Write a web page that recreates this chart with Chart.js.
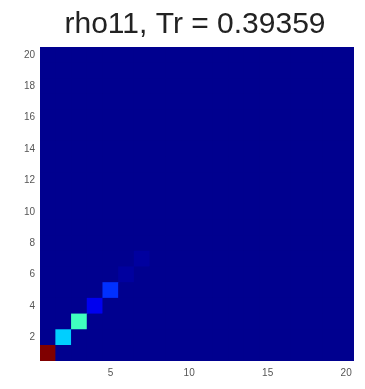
<!DOCTYPE html>
<html>
<head>
<meta charset="utf-8">
<script src="https://cdn.jsdelivr.net/npm/chart.js@4.4.1/dist/chart.umd.min.js"></script>
<style>
  html, body { margin: 0; padding: 0; background: #fff; }
  #wrap { width: 365px; height: 389px; }
</style>
</head>
<body>
<div id="wrap"><canvas id="chart"></canvas></div>
<script>
// matrix size and labels
const size = 20;
const colLabels = ['1','2','3','4','5','6','7','8','9','10','11','12','13','14','15','16','17','18','19','20'];
const xTickLabels = [5, 10, 15, 20];
const yTickLabels = [2, 4, 6, 8, 10, 12, 14, 16, 18, 20];

// diagonal of rho11 (off-diagonal entries are ~0)
const diagValues = [0.19379, 0.062, 0.0833, 0.0188, 0.0293, 0.0043, 0.0021, 0,
                    0, 0, 0, 0, 0, 0, 0, 0, 0, 0, 0, 0];

// build the 20x20 matrix
const rho = [];
for (let r = 0; r < size; r++) {
    const row = [];
    for (let c = 0; c < size; c++) row.push(r === c ? diagValues[r] : 0);
    rho.push(row);
}

const trace = diagValues.reduce((a, b) => a + b, 0);
const vMin = Math.min(...rho.flat());
const vMax = Math.max(...rho.flat());

// matlab-style jet(64)
function jetColor(v) {
    const t = vMax > vMin ? (v - vMin) / (vMax - vMin) : 0;
    const i = Math.round(t * 63) + 1;
    const u = j => {
        if (j < 1 || j > 47) return 0;
        if (j <= 16) return j / 16;
        if (j <= 31) return 1;
        return (48 - j) / 16;
    };
    const r = Math.round(u(i - 24) * 255);
    const g = Math.round(u(i - 8) * 255);
    const b = Math.round(u(i + 8) * 255);
    return `rgb(${r},${g},${b})`;
}

// one floating-bar dataset per matrix row
const datasets = rho.map((row, r) => ({
    data: row.map(() => [r + 0.5, r + 1.5]),
    backgroundColor: row.map(v => jetColor(v)),
    borderWidth: 0,
    grouped: false,
    barPercentage: 1,
    categoryPercentage: 1
}));

// fill the plot area with the lowest colour so cell seams don't show,
// and draw the title centred like the matlab figure
const heatmapPlugin = {
    id: 'heatmapBg',
    beforeDatasetsDraw(chart) {
        const { ctx, chartArea } = chart;
        ctx.save();
        ctx.fillStyle = jetColor(vMin);
        ctx.fillRect(chartArea.left, chartArea.top, chartArea.right - chartArea.left, chartArea.bottom - chartArea.top);
        ctx.restore();
    },
    afterDraw(chart) {
        const ctx = chart.ctx;
        ctx.save();
        ctx.fillStyle = '#222';
        ctx.font = '30px "Liberation Sans", Arial, sans-serif';
        ctx.textAlign = 'center';
        ctx.textBaseline = 'alphabetic';
        ctx.fillText('rho11, Tr = ' + trace.toFixed(5), 195, 33);
        ctx.restore();
    }
};

new Chart(document.getElementById('chart'), {
    type: 'bar',
    data: { labels: colLabels, datasets: datasets },
    plugins: [heatmapPlugin],
    options: {
        responsive: true,
        maintainAspectRatio: false,
        animation: false,
        layout: { padding: { left: 0, right: 11, top: 47, bottom: 0 } },
        plugins: {
            legend: { display: false },
            tooltip: { enabled: false },
            title: { display: false }
        },
        scales: {
            x: {
                grid: { display: false, drawTicks: false },
                border: { display: false },
                ticks: {
                    autoSkip: false,
                    maxRotation: 0,
                    padding: 6,
                    color: '#555',
                    font: { family: 'Liberation Sans, Arial, sans-serif', size: 10 },
                    callback: function (val) {
                        const lab = Number(this.getLabelForValue(val));
                        return xTickLabels.includes(lab) ? String(lab) : '';
                    }
                },
                afterFit: s => { s.height = 28; }
            },
            y: {
                min: 0.5,
                max: 20.5,
                grid: { display: false, drawTicks: false },
                border: { display: false },
                ticks: {
                    padding: 5,
                    color: '#555',
                    font: { family: 'Liberation Sans, Arial, sans-serif', size: 10 }
                },
                afterBuildTicks: s => { s.ticks = yTickLabels.map(v => ({ value: v })); },
                afterFit: s => { s.width = 40; }
            }
        }
    }
});
</script>
</body>
</html>
